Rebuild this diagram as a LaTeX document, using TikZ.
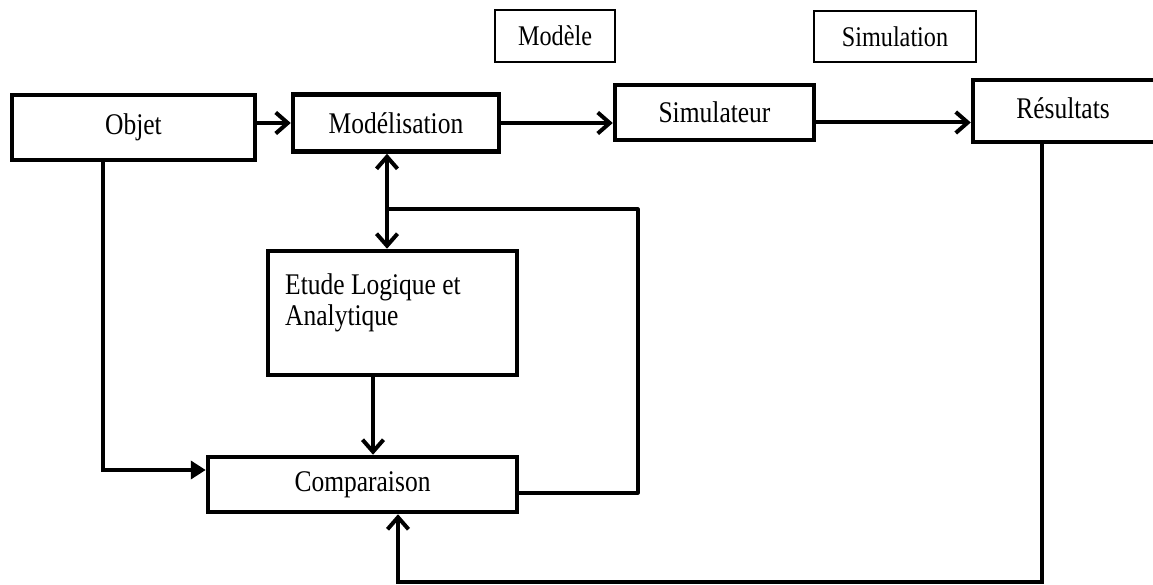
\documentclass[tikz,border=0pt]{standalone}
\usepackage{fontspec}
\setmainfont{Liberation Serif}[FakeStretch=0.85]
\usetikzlibrary{arrows.meta}

\tikzset{
  blk/.style={draw, line width=4.5pt, rectangle, inner sep=0pt,
              font=\fontsize{30}{31}\selectfont},
  tag/.style={draw, line width=1.8pt, rectangle, inner sep=0pt,
              font=\fontsize{28.5}{30}\selectfont},
  txt/.style={inner sep=0pt, font=\fontsize{30}{31}\selectfont},
  wire/.style={line width=4pt},
  thin wire/.style={line width=3.2pt},
  barb/.style={-{Straight Barb[length=12pt,width=21pt,line width=4pt]}},
  dbarb/.style={{Straight Barb[length=12pt,width=21pt,line width=4pt]}-{Straight Barb[length=12pt,width=21pt,line width=4pt]}},
  tri/.style={-{Triangle[length=15pt,width=18pt]}}
}

\begin{document}
\begin{tikzpicture}[x=1pt,y=-1pt]
  \useasboundingbox (0,0) rectangle (1153,585);
  \clip (0,0) rectangle (1153,585);
  \fill[white] (0,0) rectangle (1153,585);

  % top labels
  \node[tag, minimum width=120pt, minimum height=52pt] (modele) at (555,36) {Modèle};
  \node[tag, minimum width=162pt, minimum height=51pt] (simulation) at (895,36.5) {Simulation};

  % main chain
  \node[blk, minimum width=243pt, minimum height=65pt] (objet) at (133.5,127.5) {Objet};
  \node[blk, minimum width=206pt, minimum height=57pt] (modelisation) at (396,123) {Modélisation};
  \node[blk, minimum width=199pt, minimum height=55pt] (simulateur) at (714.5,112.5) {Simulateur};
  \node[blk, minimum width=192pt, minimum height=62pt] (resultats) at (1069,111) {};
  \node[txt] (restxt) at (1063,108) {Résultats};

  % analysis and comparison
  \node[blk, minimum width=249pt, minimum height=124pt] (etude) at (392.5,313) {};
  \node[txt, anchor=north west, align=left] (etudetxt) at (285,273) {Etude Logique et\\Analytique};
  \node[blk, minimum width=309pt, minimum height=55pt] (comparaison) at (362.5,484.5) {Comparaison};

  % routing points
  \coordinate (jt) at (387,209);
  \coordinate (rc) at (638,209);
  \coordinate (oc) at (103,470);
  \coordinate (rb) at (1042,582);
  \coordinate (cb) at (398,582);
  \coordinate (ec) at (373,0);

  % connectors
  \draw[wire, barb] (modelisation.west -| objet.east) -- (modelisation.west);
  \draw[wire, barb] (modelisation.east) -- (modelisation.east -| simulateur.west);
  \draw[wire, barb] ([yshift=-10pt]simulateur.east) -- ([yshift=-10pt]simulateur.east -| resultats.west);
  \draw[wire, dbarb] (jt |- modelisation.south) -- (jt |- etude.north);
  \draw[thin wire, line join=round] ([yshift=-8.5pt]comparaison.east) -| (rc) -- (jt);
  \draw[wire, barb] (ec |- etude.south) -- (ec |- comparaison.north);
  \draw[wire, tri] (oc |- objet.south) -- (oc) -- (oc -| comparaison.west);
  \draw[thin wire, barb] (rb |- resultats.south) -- (rb) -- (cb) -- (cb |- comparaison.south);
\end{tikzpicture}
\end{document}
